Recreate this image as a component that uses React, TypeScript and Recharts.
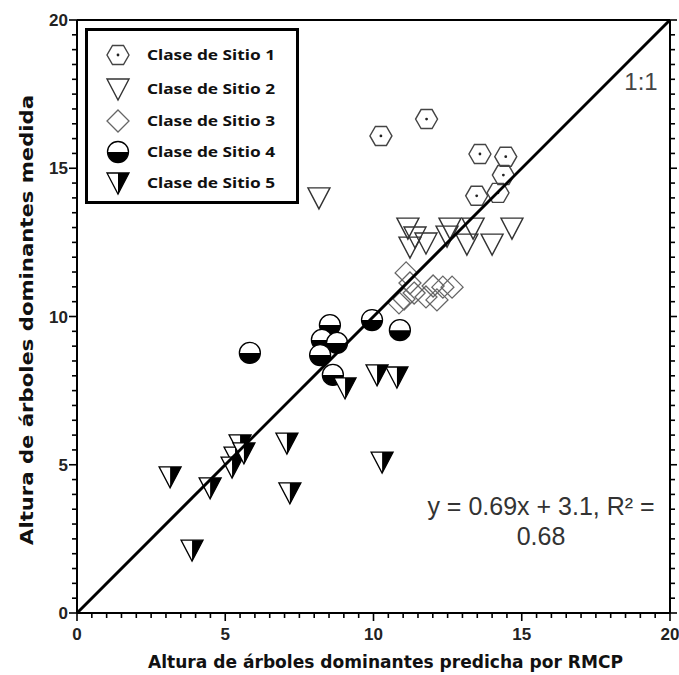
import React from 'react';
import { ScatterChart, Scatter, XAxis, YAxis, Legend, Customized } from 'recharts';

const seriesNames = ['Clase de Sitio 1', 'Clase de Sitio 2', 'Clase de Sitio 3', 'Clase de Sitio 4', 'Clase de Sitio 5'];

const sitio1 = [
  { x: 10.25, y: 16.09 }, { x: 11.79, y: 16.66 }, { x: 13.59, y: 15.48 }, { x: 14.46, y: 15.39 },
  { x: 14.38, y: 14.77 }, { x: 13.48, y: 14.07 }, { x: 14.2, y: 14.17 },
];
const sitio2 = [
  { x: 8.16, y: 14.0 }, { x: 11.16, y: 12.98 }, { x: 12.58, y: 12.98 }, { x: 13.36, y: 12.98 },
  { x: 14.67, y: 12.98 }, { x: 11.4, y: 12.68 }, { x: 11.77, y: 12.48 }, { x: 11.23, y: 12.34 },
  { x: 12.48, y: 12.71 }, { x: 13.15, y: 12.44 }, { x: 14.0, y: 12.44 },
];
const sitio3 = [
  { x: 11.1, y: 11.47 }, { x: 11.23, y: 11.13 }, { x: 11.03, y: 10.59 }, { x: 11.37, y: 10.79 },
  { x: 11.77, y: 10.66 }, { x: 12.01, y: 11.03 }, { x: 12.14, y: 10.56 }, { x: 12.34, y: 10.99 },
  { x: 12.65, y: 10.99 }, { x: 10.86, y: 10.46 },
];
const sitio4 = [
  { x: 5.83, y: 8.77 }, { x: 8.53, y: 9.71 }, { x: 9.95, y: 9.88 }, { x: 10.89, y: 9.54 },
  { x: 8.26, y: 9.21 }, { x: 8.77, y: 9.11 }, { x: 8.2, y: 8.7 }, { x: 8.63, y: 8.03 },
];
const sitio5 = [
  { x: 10.12, y: 8.03 }, { x: 10.79, y: 7.96 }, { x: 9.04, y: 7.59 }, { x: 7.08, y: 5.73 },
  { x: 10.29, y: 5.09 }, { x: 3.14, y: 4.59 }, { x: 4.49, y: 4.22 }, { x: 3.88, y: 2.12 },
  { x: 7.18, y: 4.05 }, { x: 5.5, y: 5.67 }, { x: 5.33, y: 5.26 }, { x: 5.23, y: 4.92 },
  { x: 5.63, y: 5.4 },
];
const lineOneToOne = [{ x: 0, y: 0 }, { x: 20, y: 20 }];

const axisTicks = Array.from({ length: 41 }, (_, i) => i * 0.5);
const xTitle = 'Altura de árboles dominantes predicha por RMCP';
const yTitle = 'Altura de árboles dominantes medida';
const eqLine1 = 'y = 0.69x + 3.1, R² =';
const eqLine2 = '0.68';
const oneToOne = '1:1';

const tickFont = { fontFamily: '"Liberation Sans", Arial, sans-serif', fontWeight: 700, fontSize: 17, fill: '#222' };

const Hexagon = ({ cx, cy }: any) => {
  const r = 11, h = 9.5;
  const pts = `${cx + r},${cy} ${cx + r / 2},${cy - h} ${cx - r / 2},${cy - h} ${cx - r},${cy} ${cx - r / 2},${cy + h} ${cx + r / 2},${cy + h}`;
  return (
    <g>
      <polygon points={pts} fill="none" stroke="#444" strokeWidth={1.4} />
      <circle cx={cx} cy={cy} r={1.4} fill="#222" />
    </g>
  );
};
const TriOpen = ({ cx, cy }: any) => (
  <polygon points={`${cx - 11},${cy - 10} ${cx + 11},${cy - 10} ${cx},${cy + 11}`} fill="none" stroke="#333" strokeWidth={1.4} />
);
const Diamond = ({ cx, cy }: any) => (
  <polygon points={`${cx},${cy - 11} ${cx + 11},${cy} ${cx},${cy + 11} ${cx - 11},${cy}`} fill="none" stroke="#666" strokeWidth={1.3} />
);
const HalfCircle = ({ cx, cy }: any) => {
  const r = 10.5;
  return (
    <g>
      <path d={`M${cx - r},${cy} A${r},${r} 0 0 1 ${cx + r},${cy} Z`} fill="#fff" />
      <path d={`M${cx - r},${cy} A${r},${r} 0 0 0 ${cx + r},${cy} Z`} fill="#000" />
      <circle cx={cx} cy={cy} r={r} fill="none" stroke="#000" strokeWidth={1.3} />
    </g>
  );
};
const HalfTri = ({ cx, cy }: any) => (
  <g>
    <polygon points={`${cx - 11},${cy - 10} ${cx},${cy - 10} ${cx},${cy + 11}`} fill="#fff" />
    <polygon points={`${cx},${cy - 10} ${cx + 11},${cy - 10} ${cx},${cy + 11}`} fill="#000" />
    <polygon points={`${cx - 11},${cy - 10} ${cx + 11},${cy - 10} ${cx},${cy + 11}`} fill="none" stroke="#000" strokeWidth={1.3} />
  </g>
);
const shapes = [Hexagon, TriOpen, Diamond, HalfCircle, HalfTri];

const BottomTick = ({ x, y, payload }: any) => {
  const major = payload.value % 5 === 0;
  return (
    <g>
      <line x1={x} x2={x} y1={y} y2={y + (major ? 8 : 5)} stroke="#000" strokeWidth={1.6} />
      {major && (
        <text x={x} y={y + 27} textAnchor="middle" {...tickFont}>{payload.value}</text>
      )}
    </g>
  );
};
const TopTick = ({ x, y, payload }: any) => (
  <line x1={x} x2={x} y1={y} y2={y - (payload.value % 5 === 0 ? 7 : 5)} stroke="#000" strokeWidth={1.6} />
);
const LeftTick = ({ x, y, payload }: any) => {
  const major = payload.value % 5 === 0;
  return (
    <g>
      <line x1={x} x2={x - (major ? 8 : 5)} y1={y} y2={y} stroke="#000" strokeWidth={1.6} />
      {major && (
        <text x={x - 9} y={y + 6} textAnchor="end" {...tickFont}>{payload.value}</text>
      )}
    </g>
  );
};
const RightTick = ({ x, y, payload }: any) => (
  <line x1={x} x2={x + (payload.value % 5 === 0 ? 7 : 5)} y1={y} y2={y} stroke="#000" strokeWidth={1.6} />
);

const LegendBox = (props: any) => {
  const payload = (props.payload || []).filter((p: any) => p.type !== 'none' && seriesNames.includes(p.value));
  const rows = [27, 61, 93, 124, 155];
  return (
    <svg width={214} height={176} style={{ display: 'block' }}>
      <rect x={1.5} y={1.5} width={211} height={173} fill="#fff" stroke="#000" strokeWidth={3} />
      {payload.map((p: any, i: number) => {
        const idx = seriesNames.indexOf(p.value);
        const Shape = shapes[idx];
        return (
          <g key={p.value}>
            <Shape cx={33} cy={rows[i]} />
            <text x={62} y={rows[i] + 5} fontFamily='"Noto Sans", sans-serif' fontWeight={700} fontSize={15}
              fill="#111" textLength={128} lengthAdjust="spacingAndGlyphs">{p.value}</text>
          </g>
        );
      })}
    </svg>
  );
};

const Annotations = () => (
  <g>
    <text x={641} y={90} textAnchor="middle" fontFamily='"Liberation Sans", Arial, sans-serif' fontSize={24} fill="#444">{oneToOne}</text>
    <text x={541} y={515} textAnchor="middle" fontFamily='"Liberation Sans", Arial, sans-serif' fontSize={25} fill="#333">{eqLine1}</text>
    <text x={541} y={545} textAnchor="middle" fontFamily='"Liberation Sans", Arial, sans-serif' fontSize={25} fill="#333">{eqLine2}</text>
    <text x={385.5} y={668} textAnchor="middle" fontFamily='"DejaVu Sans", Verdana, sans-serif' fontWeight={700} fontSize={17}
      fill="#111" textLength={475} lengthAdjust="spacingAndGlyphs">{xTitle}</text>
    <text x={0} y={0} transform="translate(33,320) rotate(-90)" textAnchor="middle" fontFamily='"DejaVu Sans", Verdana, sans-serif'
      fontWeight={700} fontSize={17} fill="#111" textLength={450} lengthAdjust="spacingAndGlyphs">{yTitle}</text>
  </g>
);

const axisLine = { stroke: '#000', strokeWidth: 2 };

export default function App() {
  const series = [sitio1, sitio2, sitio3, sitio4, sitio5];
  return (
    <div style={{ position: 'absolute', left: 0, top: 0, background: '#fff' }}>
      <ScatterChart width={679} height={675} margin={{ top: 10, right: 1, bottom: 0, left: 0 }}>
        <XAxis type="number" dataKey="x" domain={[0, 20]} ticks={axisTicks} interval={0} height={62}
          tickSize={0} tickMargin={0} tickLine={false} axisLine={axisLine} tick={<BottomTick />} allowDataOverflow />
        <XAxis xAxisId="top" orientation="top" type="number" domain={[0, 20]} ticks={axisTicks} interval={0} height={10}
          tickSize={0} tickMargin={0} tickLine={false} axisLine={axisLine} tick={<TopTick />} allowDataOverflow />
        <YAxis type="number" dataKey="y" domain={[0, 20]} ticks={axisTicks} interval={0} width={77}
          tickSize={0} tickMargin={0} tickLine={false} axisLine={axisLine} tick={<LeftTick />} allowDataOverflow />
        <YAxis yAxisId="right" orientation="right" type="number" domain={[0, 20]} ticks={axisTicks} interval={0} width={8}
          tickSize={0} tickMargin={0} tickLine={false} axisLine={axisLine} tick={<RightTick />} allowDataOverflow />
        {series.map((d, i) => {
          const Shape = shapes[i];
          return (
            <Scatter key={seriesNames[i]} name={seriesNames[i]} data={d} isAnimationActive={false}
              shape={(p: any) => <Shape cx={p.cx} cy={p.cy} />} />
          );
        })}
        <Scatter name="1:1" data={lineOneToOne} isAnimationActive={false} legendType="none"
          line={{ stroke: '#000', strokeWidth: 3 }} shape={() => <g />} />
        <Legend layout="vertical" align="center" verticalAlign="middle" content={<LegendBox />}
          wrapperStyle={{ position: 'absolute', left: 85, top: 28, width: 214, height: 176 }} />
        <Customized component={Annotations} />
      </ScatterChart>
    </div>
  );
}
